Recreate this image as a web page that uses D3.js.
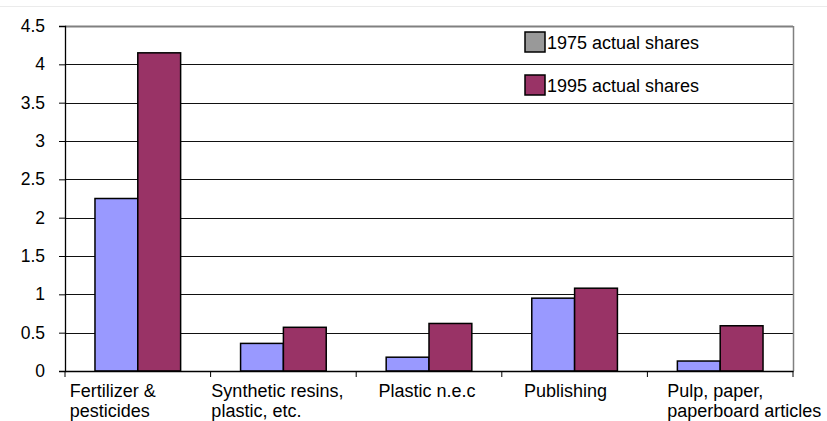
<!DOCTYPE html>
<html>
<head>
<meta charset="utf-8">
<script src="https://cdn.jsdelivr.net/npm/d3@7"></script>
<style>
  body { margin: 0; background: #fff; }
  svg { display: block; font-family: "Liberation Sans", Arial, sans-serif; }
</style>
</head>
<body>
<svg></svg>
<script>
var categories = [
  ['Fertilizer &', 'pesticides'],
  ['Synthetic resins,', 'plastic, etc.'],
  ['Plastic n.e.c'],
  ['Publishing'],
  ['Pulp, paper,', 'paperboard articles']
];
var seriesNames = ['1975 actual shares', '1995 actual shares'];
var shares1975 = [2.25, 0.36, 0.18, 0.95, 0.13];
var shares1995 = [4.15, 0.57, 0.62, 1.08, 0.59];
var yTicks = [0, 0.5, 1, 1.5, 2, 2.5, 3, 3.5, 4, 4.5];

var width = 827;
var height = 421;
var margin = {top: 26, right: 34, bottom: 50, left: 65};

// horizontal nudge of each category label (the original lays them out unevenly)
var labelNudge = [-25, -6, -2, -9, 24];

var svg = d3.select('svg')
            .attr('width', width)
            .attr('height', height);

var keys = categories.map(function(d) { return d.join(' '); });
var data = keys.map(function(k, i) {
  return {key: k, idx: i, lines: categories[i], values: [shares1975[i], shares1995[i]]};
});

var x0 = d3.scaleBand()
           .domain(keys)
           .range([margin.left, width - margin.right])
           .paddingInner(0)
           .paddingOuter(0);

var x1 = d3.scaleBand()
           .domain([0, 1])
           .range([0, x0.bandwidth()])
           .paddingInner(0)
           .paddingOuter(0.7);

var y = d3.scaleLinear()
          .domain([0, 4.5])
          .range([height - margin.bottom, margin.top]);

var barColors = ['#9999ff', '#993366'];
var legendColors = ['#999999', '#993366'];

// faint outer chart border
svg.append('line')
   .attr('x1', 0).attr('x2', width)
   .attr('y1', 6.5).attr('y2', 6.5)
   .attr('stroke', '#ebebeb');

// gridlines
svg.append('g')
   .selectAll('line')
   .data(yTicks.slice(1))
   .enter()
   .append('line')
     .attr('x1', margin.left).attr('x2', width - margin.right)
     .attr('y1', d => Math.round(y(d)) + 0.5)
     .attr('y2', d => Math.round(y(d)) + 0.5)
     .attr('stroke', d => d === 4.5 ? '#808080' : '#111')
     .attr('stroke-width', d => d === 4.5 ? 2 : 1);

// right border of plot
svg.append('line')
   .attr('x1', width - margin.right + 0.5).attr('x2', width - margin.right + 0.5)
   .attr('y1', y(4.5)).attr('y2', y(0))
   .attr('stroke', '#808080')
   .attr('stroke-width', 1.5);

// bars
var groups = svg.selectAll('.grp')
  .data(data)
  .enter()
  .append('g')
    .attr('class', 'grp')
    .attr('transform', d => `translate(${x0(d.key)},0)`);

groups.selectAll('rect')
  .data(d => d.values)
  .enter()
  .append('rect')
    .attr('x', (d, i) => x1(i))
    .attr('width', x1.bandwidth())
    .attr('y', d => y(d))
    .attr('height', d => y(0) - y(d))
    .attr('fill', (d, i) => barColors[i])
    .attr('stroke', '#000')
    .attr('stroke-width', 1.5);

// y axis
var yAxis = svg.append('g')
   .attr('transform', `translate(${margin.left},0)`)
   .call(d3.axisLeft(y).tickValues(yTicks).tickSize(6).tickPadding(14)
           .tickFormat(d3.format('')));
yAxis.select('.domain').attr('stroke', '#000').attr('stroke-width', 1.3);
yAxis.selectAll('.tick line').attr('stroke', '#000');
yAxis.selectAll('text').attr('font-size', 17.5).attr('fill', '#000')
     .attr('font-family', '"Liberation Sans", Arial, sans-serif');

// x axis
var xAxis = svg.append('g')
   .attr('transform', `translate(0,${y(0)})`)
   .call(d3.axisBottom(x0).tickSize(0).tickFormat(''));
xAxis.select('.domain').attr('stroke', '#000').attr('stroke-width', 1.3);

// category boundary ticks
var bounds = keys.map(k => x0(k)).concat([x0.range()[1]]);
svg.append('g')
   .selectAll('line')
   .data(bounds)
   .enter()
   .append('line')
     .attr('x1', d => d).attr('x2', d => d)
     .attr('y1', y(0)).attr('y2', y(0) + 6)
     .attr('stroke', '#000');

// category labels: lines left-aligned, block centred in band
var labels = svg.append('g')
  .selectAll('text')
  .data(data)
  .enter()
  .append('text')
    .attr('font-size', 18)
    .attr('fill', '#000');

labels.each(function(d) {
  var t = d3.select(this);
  d.lines.forEach(function(line, i) {
    t.append('tspan').attr('x', 0).attr('dy', i === 0 ? 0 : 20).text(line);
  });
  var w = this.getBBox().width;
  var cx = x0(d.key) + x0.bandwidth() / 2 + labelNudge[d.idx];
  t.attr('transform', `translate(${cx - w / 2},${y(0) + 26})`);
});

// legend
var legend = svg.append('g')
  .selectAll('g')
  .data(seriesNames)
  .enter()
  .append('g')
    .attr('transform', (d, i) => `translate(525,${32 + i * 43})`);

legend.append('rect')
  .attr('width', 20)
  .attr('height', 20)
  .attr('fill', (d, i) => legendColors[i])
  .attr('stroke', '#000')
  .attr('stroke-width', 1.5);

legend.append('text')
  .attr('x', 22)
  .attr('y', 17)
  .attr('font-size', 18)
  .attr('fill', '#000')
  .text(d => d);
</script>
</body>
</html>
